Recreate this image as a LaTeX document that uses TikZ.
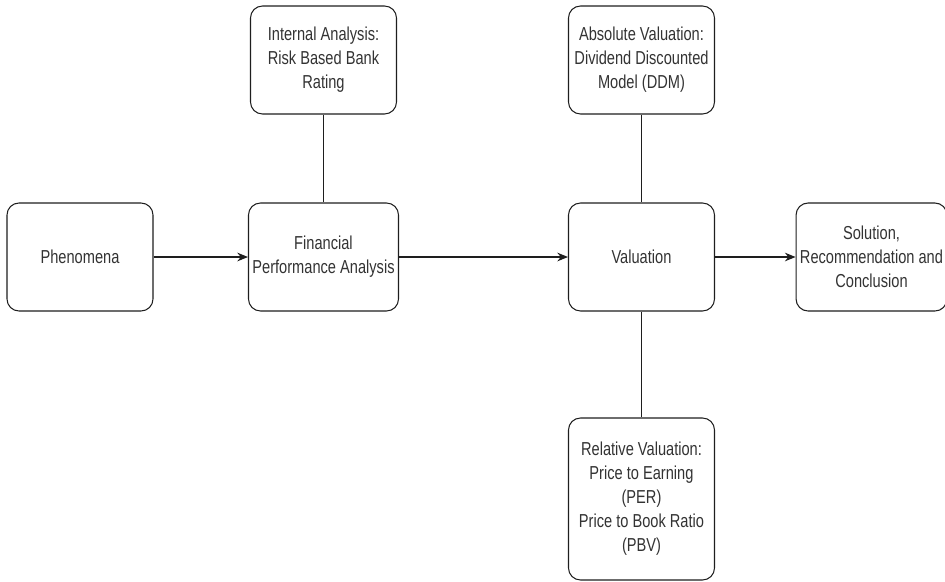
\documentclass[tikz,border=0pt]{standalone}
\usepackage{fontspec}
\usetikzlibrary{positioning, arrows.meta}
\newfontfamily\boxfont{Liberation Sans}[FakeStretch=0.78]
\definecolor{Dark}{HTML}{1E1E1E}
\definecolor{Ink}{HTML}{333333}
\tikzset{
    stagebox/.style={rectangle, rounded corners=3.6mm, draw=Dark, line width=0.9pt, fill=white, text=Ink, align=center,
        minimum width=43.8mm, minimum height=32.4mm, font=\boxfont\fontsize{16}{20.5}\selectfont},
    flow/.style={-{Stealth[length=3.2mm, width=2.6mm]}, line width=0.9pt, color=Dark},
    link/.style={line width=0.9pt, color=Dark},
}

\begin{document}
\begin{tikzpicture}[x=0.3mm, y=-0.3mm]
    \useasboundingbox (0,0) rectangle (945,581);

    % --- main row ---
    \node[stagebox] (phen) at (80,257) {Phenomena};
    \node[stagebox] (fpa) at (323.5,257) {Financial\\Performance Analysis};
    \node[stagebox] (val) at (641.5,257) {Valuation};
    \node[stagebox] (sol) at (871.5,257) {Solution,\\Recommendation and\\Conclusion};

    % --- side boxes ---
    \node[stagebox] (internal) at (323.5,60) {Internal Analysis:\\Risk Based Bank\\Rating};
    \node[stagebox] (absval) at (641.5,60) {Absolute Valuation:\\Dividend Discounted\\Model (DDM)};
    \node[stagebox, minimum height=48.6mm] (relval) at (641.5,499) {Relative Valuation:\\Price to Earning\\(PER)\\Price to Book Ratio\\(PBV)};

    % --- connectors ---
    \draw[flow] (phen) -- (fpa);
    \draw[flow] (fpa) -- (val);
    \draw[flow] (val) -- (sol);
    \draw[link] (internal) -- (fpa);
    \draw[link] (absval) -- (val);
    \draw[link] (val) -- (relval);
\end{tikzpicture}
\end{document}
